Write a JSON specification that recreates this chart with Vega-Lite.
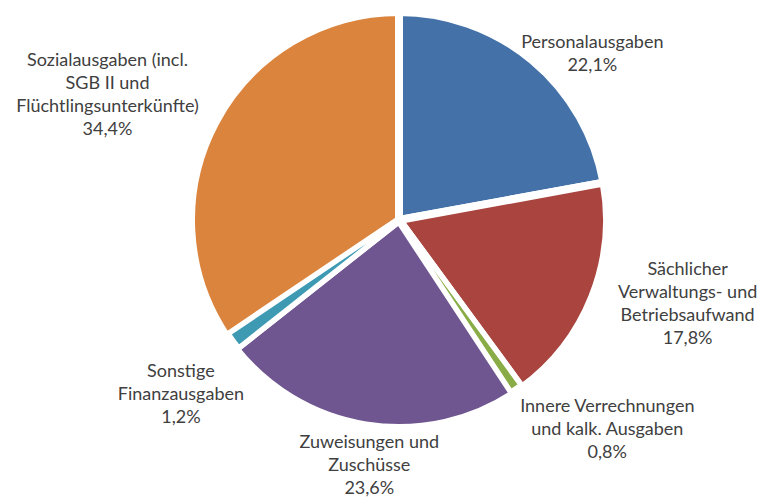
{
  "$schema": "https://vega.github.io/schema/vega-lite/v6.json",
  "width": 726,
  "height": 440,
  "autosize": "none",
  "padding": {"left": 36, "right": 0, "top": 0, "bottom": 60},
  "background": "white",
  "view": {"stroke": null},
  "data": {
    "values": [
      {"nr": 1, "kategorie": "Personalausgaben", "anteil": 22.1, "label": ["Personalausgaben", "22,1%"]},
      {"nr": 2, "kategorie": "Sächlicher Verwaltungs- und Betriebsaufwand", "anteil": 17.8, "label": ["Sächlicher", "Verwaltungs- und", "Betriebsaufwand", "17,8%"]},
      {"nr": 3, "kategorie": "Innere Verrechnungen und kalk. Ausgaben", "anteil": 0.8, "label": ["Innere Verrechnungen", "und kalk. Ausgaben", "0,8%"]},
      {"nr": 4, "kategorie": "Zuweisungen und Zuschüsse", "anteil": 23.6, "label": ["Zuweisungen und", "Zuschüsse", "23,6%"]},
      {"nr": 5, "kategorie": "Sonstige Finanzausgaben", "anteil": 1.2, "label": ["Sonstige", "Finanzausgaben", "1,2%"]},
      {"nr": 6, "kategorie": "Sozialausgaben (incl. SGB II und Flüchtlingsunterkünfte)", "anteil": 34.4, "label": ["Sozialausgaben (incl.", "SGB II und", "Flüchtlingsunterkünfte)", "34,4%"]}
    ]
  },
  "encoding": {
    "theta": {"field": "anteil", "type": "quantitative", "stack": true},
    "order": {"field": "nr", "type": "quantitative"},
    "detail": {"field": "kategorie"}
  },
  "layer": [
    {
      "mark": {"type": "arc", "radius": 208, "stroke": "white", "strokeWidth": 8},
      "encoding": {
        "color": {
          "field": "kategorie",
          "type": "nominal",
          "legend": null,
          "scale": {
            "domain": ["Personalausgaben", "Sächlicher Verwaltungs- und Betriebsaufwand", "Innere Verrechnungen und kalk. Ausgaben", "Zuweisungen und Zuschüsse", "Sonstige Finanzausgaben", "Sozialausgaben (incl. SGB II und Flüchtlingsunterkünfte)"],
            "range": ["#4472A8", "#A9443F", "#89AC46", "#6F5690", "#3E9AB3", "#DB843D"]
          }
        }
      }
    },
    {
      "mark": {"type": "arc", "radius": 204, "stroke": "white", "strokeWidth": 3},
      "encoding": {
        "color": {"field": "kategorie", "type": "nominal", "legend": null},
        "opacity": {"condition": {"test": "datum.nr == 3 || datum.nr == 5", "value": 1}, "value": 0}
      }
    },
    {
      "mark": {"type": "text", "radius": 262, "thetaOffset": 0.135, "font": "Lato", "fontSize": 18, "lineHeight": 23, "color": "#404040", "align": "center", "baseline": "middle"},
      "encoding": {"text": {"condition": {"test": "datum.nr == 1", "field": "label"}, "value": ""}}
    },
    {
      "mark": {"type": "text", "radius": 293, "thetaOffset": -0.206, "font": "Lato", "fontSize": 18, "lineHeight": 23, "color": "#404040", "align": "center", "baseline": "middle"},
      "encoding": {"text": {"condition": {"test": "datum.nr == 2", "field": "label"}, "value": ""}}
    },
    {
      "mark": {"type": "text", "radius": 280, "thetaOffset": -0.232, "font": "Lato", "fontSize": 18, "lineHeight": 23, "color": "#404040", "align": "center", "baseline": "middle"},
      "encoding": {"text": {"condition": {"test": "datum.nr == 3", "field": "label"}, "value": ""}}
    },
    {
      "mark": {"type": "text", "radius": 225, "thetaOffset": -0.028, "font": "Lato", "fontSize": 18, "lineHeight": 23, "color": "#404040", "align": "center", "baseline": "middle"},
      "encoding": {"text": {"condition": {"test": "datum.nr == 4", "field": "label"}, "value": ""}}
    },
    {
      "mark": {"type": "text", "radius": 266, "thetaOffset": 0.021, "font": "Lato", "fontSize": 18, "lineHeight": 23, "color": "#404040", "align": "center", "baseline": "middle"},
      "encoding": {"text": {"condition": {"test": "datum.nr == 5", "field": "label"}, "value": ""}}
    },
    {
      "mark": {"type": "text", "radius": 332, "thetaOffset": 0.01, "font": "Lato", "fontSize": 18, "lineHeight": 23, "color": "#404040", "align": "center", "baseline": "middle"},
      "encoding": {"text": {"condition": {"test": "datum.nr == 6", "field": "label"}, "value": ""}}
    }
  ]
}
